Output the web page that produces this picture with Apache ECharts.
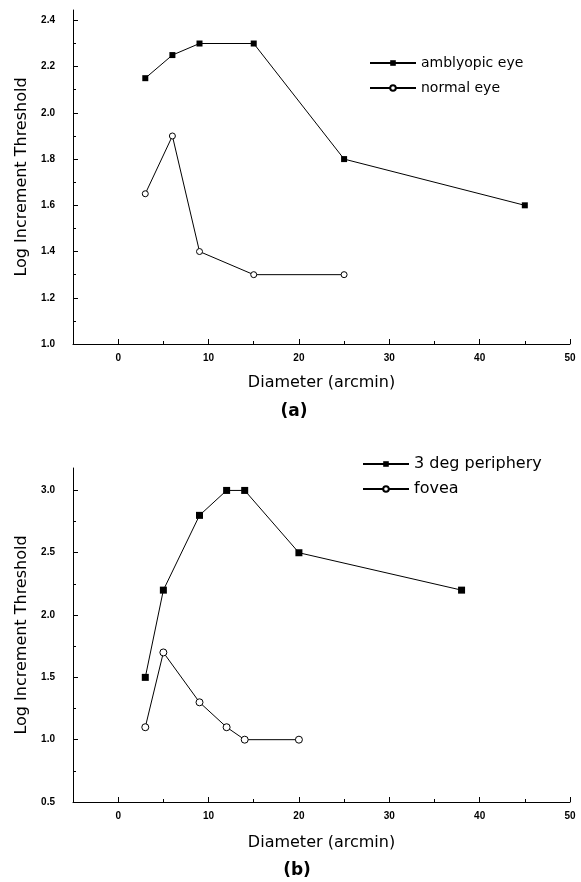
<!DOCTYPE html>
<html><head><meta charset="utf-8">
<script src="https://cdn.jsdelivr.net/npm/echarts@6/dist/echarts.min.js"></script>
<style>html,body{margin:0;padding:0;background:#fff}#c{width:581px;height:882px}</style>
</head><body><div id="c"></div>
<script>
// Panel (a)
const xAmblyopic = [3, 6, 9, 15, 25, 45];
const yAmblyopic = [2.15, 2.25, 2.3, 2.3, 1.8, 1.6];
const xNormal = [3, 6, 9, 15, 25];
const yNormal = [1.65, 1.9, 1.4, 1.3, 1.3];
// Panel (b)
const xPeriphery = [3, 5, 9, 12, 14, 20, 38];
const yPeriphery = [1.5, 2.2, 2.8, 3.0, 3.0, 2.5, 2.2];
const xFovea = [3, 5, 9, 12, 14, 20];
const yFovea = [1.1, 1.7, 1.3, 1.1, 1.0, 1.0];
// Tick labels
const xMajorTicks = [0, 10, 20, 30, 40, 50];
const xMinorTicks = [5, 15, 25, 35, 45];
const yTopMajor = [1.0, 1.2, 1.4, 1.6, 1.8, 2.0, 2.2, 2.4];
const yTopMinor = [1.1, 1.3, 1.5, 1.7, 1.9, 2.1, 2.3];
const yBotMajor = [0.5, 1.0, 1.5, 2.0, 2.5, 3.0];
const yBotMinor = [0.75, 1.25, 1.75, 2.25, 2.75];
const seriesNamesA = ['amblyopic eye', 'normal eye'];
const seriesNamesB = ['3 deg periphery', 'fovea'];
const xTitle = 'Diameter (arcmin)';
const yTitle = 'Log Increment Threshold';

function pairs(xs, ys) { return xs.map((x, i) => [x, ys[i]]); }

const tickFont = { fontFamily: 'Liberation Sans, Arial, sans-serif', fontSize: 10, fontWeight: 'bold', color: '#000' };
const titleFont = { fontFamily: 'DejaVu Sans', fontSize: 16, color: '#000' };
const black = { color: '#000', width: 1 };

function xAxes(gridIndex, nameGap) {
  return [
    { type: 'value', gridIndex, min: -5, max: 50, position: 'bottom',
      name: xTitle, nameLocation: 'middle', nameGap, nameTextStyle: titleFont,
      axisLine: { show: true, onZero: false, lineStyle: black },
      axisTick: { show: true, inside: true, length: 5, customValues: xMajorTicks, lineStyle: black },
      axisLabel: Object.assign({ customValues: xMajorTicks, margin: 9 }, tickFont),
      splitLine: { show: false } },
    { type: 'value', gridIndex, min: -5, max: 50, position: 'bottom',
      axisLine: { show: false, onZero: false },
      axisTick: { show: true, inside: true, length: 3, customValues: xMinorTicks, lineStyle: black },
      axisLabel: { show: false }, splitLine: { show: false } }
  ];
}
function yAxes(gridIndex, min, max, major, minor) {
  return [
    { type: 'value', gridIndex, min, max, position: 'left',
      name: yTitle, nameLocation: 'middle', nameGap: 36, nameTextStyle: titleFont,
      axisLine: { show: true, onZero: false, lineStyle: black },
      axisTick: { show: true, inside: true, length: 5, customValues: major, lineStyle: black },
      axisLabel: Object.assign({ customValues: major, margin: 18, formatter: v => v.toFixed(1) }, tickFont),
      splitLine: { show: false } },
    { type: 'value', gridIndex, min, max, position: 'left',
      axisLine: { show: false, onZero: false },
      axisTick: { show: true, inside: true, length: 3, customValues: minor, lineStyle: black },
      axisLabel: { show: false }, splitLine: { show: false } }
  ];
}
function lineSeries(name, axisIdx, data, filled, size) {
  return {
    type: 'line', name, xAxisIndex: axisIdx, yAxisIndex: axisIdx, data,
    symbol: filled ? 'rect' : 'circle', symbolSize: size,
    itemStyle: filled ? { color: '#000' } : { color: '#fff', borderColor: '#000', borderWidth: 1 },
    lineStyle: { color: '#000', width: 1 },
    emphasis: { disabled: true }
  };
}

const option = {
  animation: false,
  backgroundColor: '#fff',
  grid: [
    { left: 73, top: 10, width: 497, height: 334 },
    { left: 73, top: 468, width: 497, height: 334 }
  ],
  xAxis: xAxes(0, 31).concat(xAxes(1, 33)),
  yAxis: yAxes(0, 1.0, 2.445, yTopMajor, yTopMinor).concat(yAxes(1, 0.5, 3.18, yBotMajor, yBotMinor)),
  legend: [
    { data: seriesNamesA, orient: 'vertical', left: 369, top: 56, padding: 0,
      itemWidth: 46, itemHeight: 7, itemGap: 11,
      textStyle: { fontFamily: 'DejaVu Sans', fontSize: 14, color: '#000' } },
    { data: seriesNamesB, orient: 'vertical', left: 362, top: 456, padding: 0,
      itemWidth: 46, itemHeight: 7, itemGap: 9,
      textStyle: { fontFamily: 'DejaVu Sans', fontSize: 16, color: '#000' } }
  ],
  graphic: [
    { type: 'text', x: 294, y: 412, style: { text: '(a)', align: 'center', verticalAlign: 'middle', font: 'bold 17px "DejaVu Sans"', fill: '#000' } },
    { type: 'text', x: 297, y: 871, style: { text: '(b)', align: 'center', verticalAlign: 'middle', font: 'bold 17px "DejaVu Sans"', fill: '#000' } }
  ],
  series: [
    lineSeries(seriesNamesA[0], 0, pairs(xAmblyopic, yAmblyopic), true, 6),
    lineSeries(seriesNamesA[1], 0, pairs(xNormal, yNormal), false, 6),
    lineSeries(seriesNamesB[0], 2, pairs(xPeriphery, yPeriphery), true, 7),
    lineSeries(seriesNamesB[1], 2, pairs(xFovea, yFovea), false, 7)
  ]
};
echarts.init(document.getElementById('c')).setOption(option);
</script>
</body></html>
